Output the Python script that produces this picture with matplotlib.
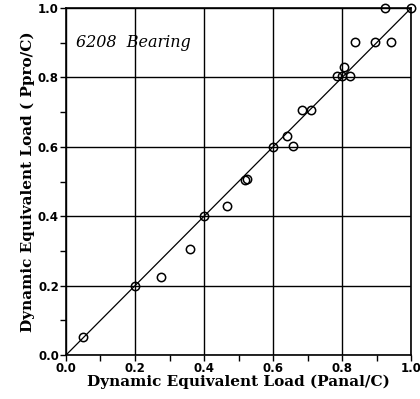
import numpy as np
import matplotlib.pyplot as plt
from matplotlib.ticker import MultipleLocator

# measured points (Panal/C, Ppro/C)
panal = [0.05, 0.20, 0.275, 0.36, 0.40, 0.466, 0.52, 0.525, 0.60, 0.64, 0.658,
         0.684, 0.71, 0.786, 0.80, 0.806, 0.823, 0.838, 0.896, 0.925, 0.942, 1.0]
ppro = [0.052, 0.20, 0.225, 0.305, 0.40, 0.429, 0.505, 0.508, 0.60, 0.631, 0.602,
        0.706, 0.706, 0.804, 0.804, 0.830, 0.804, 0.902, 0.902, 1.0, 0.902, 1.0]

# reference line y = x
line_x = [0.0, 1.0]
line_y = [0.0, 1.0]

fig = plt.figure(figsize=(4.2, 3.99), dpi=100)
ax = fig.add_axes([0.157, 0.110, 0.822, 0.870])

ax.plot(line_x, line_y, color='black', linewidth=0.9)
ax.plot(panal, ppro, linestyle='none', marker='o', markersize=6.0,
        markerfacecolor='none', markeredgecolor='black', markeredgewidth=1.1,
        clip_on=False)

ax.set_xlim(0, 1)
ax.set_ylim(0, 1)
ax.xaxis.set_major_locator(MultipleLocator(0.2))
ax.yaxis.set_major_locator(MultipleLocator(0.2))
ax.xaxis.set_minor_locator(MultipleLocator(0.1))
ax.yaxis.set_minor_locator(MultipleLocator(0.1))
ax.grid(True, which='major', color='black', linewidth=1.0)
ax.tick_params(which='both', direction='out', length=4, width=1.0)
ax.tick_params(labelsize=8.5, pad=1)
for lab in ax.get_xticklabels() + ax.get_yticklabels():
    lab.set_fontweight('bold')
ax.xaxis.set_major_formatter(plt.FuncFormatter(lambda v, p: f'{v:.1f}'))
ax.yaxis.set_major_formatter(plt.FuncFormatter(lambda v, p: f'{v:.1f}'))
for s in ax.spines.values():
    s.set_linewidth(1.2)

ax.set_xlabel('Dynamic Equivalent Load (Panal/C)', family='DejaVu Serif',
              fontweight='bold', fontsize=11, labelpad=0)
ax.set_ylabel('Dynamic Equivalent Load ( Ppro/C)', family='DejaVu Serif',
              fontweight='bold', fontsize=11, labelpad=2)
ax.text(0.03, 0.9, '6208  Bearing', family='DejaVu Serif', style='italic',
        fontsize=11.5, transform=ax.transAxes, va='center')

plt.savefig('out.png', dpi=100)
